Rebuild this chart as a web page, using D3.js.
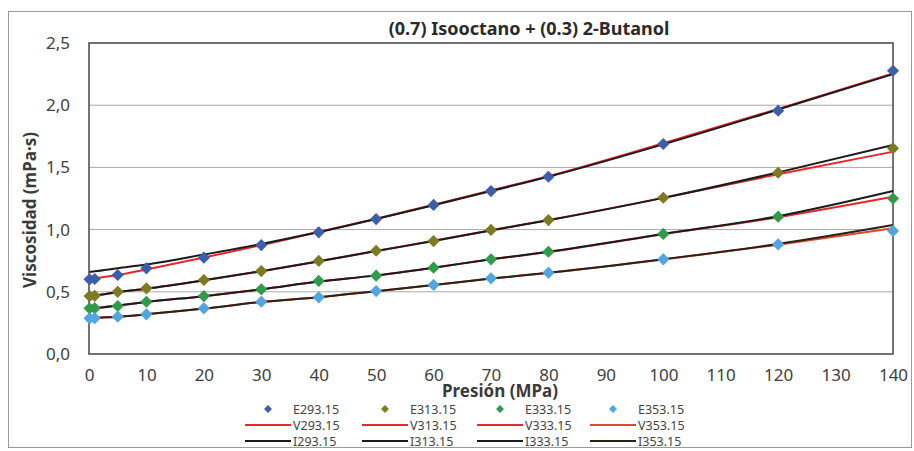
<!DOCTYPE html>
<html lang="es">
<head>
<meta charset="UTF-8">
<title>(0.7) Isooctano + (0.3) 2-Butanol</title>
<script src="https://cdn.jsdelivr.net/npm/d3@7"></script>
<style>
  body { margin: 0; background: #fff; }
  svg { display: block; font-family: "Noto Sans", "Open Sans", sans-serif; }
</style>
</head>
<body>
<div id="chart"></div>
<script>
// pressures (MPa) shared by every series
var pressures = [0.1, 1, 5, 10, 20, 30, 40, 50, 60, 70, 80, 100, 120, 140];
var xTicks = [0, 10, 20, 30, 40, 50, 60, 70, 80, 90, 100, 110, 120, 130, 140];
var yTicks = [0, 0.5, 1.0, 1.5, 2.0, 2.5];

// experimental points
var E293 = [0.600, 0.603, 0.635, 0.689, 0.774, 0.876, 0.978, 1.085, 1.198, 1.310, 1.425, 1.688, 1.956, 2.277];
var E313 = [0.466, 0.468, 0.500, 0.528, 0.595, 0.667, 0.748, 0.830, 0.908, 0.997, 1.077, 1.256, 1.457, 1.653];
var E333 = [0.367, 0.368, 0.386, 0.420, 0.466, 0.520, 0.587, 0.630, 0.694, 0.761, 0.822, 0.965, 1.104, 1.250];
var E353 = [0.287, 0.288, 0.300, 0.319, 0.367, 0.420, 0.456, 0.506, 0.555, 0.608, 0.654, 0.761, 0.882, 0.989];

// V model
var V293 = [0.600, 0.607, 0.635, 0.680, 0.775, 0.875, 0.980, 1.088, 1.200, 1.315, 1.430, 1.695, 1.970, 2.255];
var V313 = [0.466, 0.470, 0.497, 0.525, 0.592, 0.665, 0.745, 0.828, 0.910, 0.995, 1.077, 1.255, 1.445, 1.626];
var V333 = [0.367, 0.370, 0.390, 0.418, 0.465, 0.520, 0.582, 0.632, 0.694, 0.761, 0.820, 0.963, 1.100, 1.264];
var V353 = [0.287, 0.290, 0.300, 0.319, 0.365, 0.418, 0.456, 0.505, 0.555, 0.606, 0.652, 0.760, 0.878, 1.010];

// I model
var I293 = [0.660, 0.665, 0.690, 0.720, 0.800, 0.885, 0.980, 1.085, 1.195, 1.310, 1.425, 1.685, 1.965, 2.250];
var I313 = [0.466, 0.470, 0.497, 0.525, 0.592, 0.665, 0.745, 0.828, 0.908, 0.993, 1.075, 1.255, 1.460, 1.680];
var I333 = [0.367, 0.370, 0.390, 0.418, 0.465, 0.520, 0.582, 0.632, 0.694, 0.761, 0.822, 0.965, 1.108, 1.310];
var I353 = [0.287, 0.290, 0.300, 0.319, 0.365, 0.418, 0.456, 0.505, 0.555, 0.606, 0.653, 0.762, 0.885, 1.037];

var temps = ["293.15", "313.15", "333.15", "353.15"];
var expSeries = [E293, E313, E333, E353];
var vSeries = [V293, V313, V333, V353];
var iSeries = [I293, I313, I333, I353];
var markerColors = ["#3d5ea8", "#7c7b24", "#2f9c4c", "#4fa6e2"];
var vColors = ["#e8262b", "#e8262b", "#e8262b", "#dd4a2c"];
var iColors = ["#1b1b1b", "#1b1b1b", "#1b1b1b", "#2a2015"];

var W = 914, H = 451;
var plot = { left: 89, right: 893, top: 43, bottom: 354 };

var svg = d3.select("#chart").append("svg")
    .attr("width", W).attr("height", H);

// outer chart frame
svg.append("rect")
    .attr("x", 8.5).attr("y", 11.5)
    .attr("width", 903).attr("height", 436)
    .attr("fill", "none").attr("stroke", "#9a9a9a").attr("stroke-width", 1);

var x = d3.scaleLinear().domain([0, 140]).range([plot.left, plot.right]);
var y = d3.scaleLinear().domain([0, 2.5]).range([plot.bottom, plot.top]);

// gridlines
svg.append("g")
    .selectAll("line")
    .data(yTicks.filter(function (d) { return d > 0 && d < 2.5; }))
    .enter().append("line")
    .attr("x1", plot.left).attr("x2", plot.right)
    .attr("y1", function (d) { return y(d); })
    .attr("y2", function (d) { return y(d); })
    .attr("stroke", "#a8a8a8").attr("stroke-width", 1);

// plot border
svg.append("rect")
    .attr("x", plot.left).attr("y", plot.top)
    .attr("width", plot.right - plot.left).attr("height", plot.bottom - plot.top)
    .attr("fill", "none").attr("stroke", "#454545").attr("stroke-width", 1.5);

// Y axis
var yAxis = svg.append("g")
    .attr("transform", "translate(" + plot.left + ",0)")
    .call(d3.axisLeft(y).tickValues(yTicks).tickSize(0).tickPadding(19)
        .tickFormat(function (d) { return d3.format(".1f")(d).replace(".", ","); }));
yAxis.select(".domain").remove();
yAxis.selectAll("text").attr("font-size", 17).attr("fill", "#404040")
    .attr("font-family", "Noto Sans");

// X axis
var xAxis = svg.append("g")
    .attr("transform", "translate(0," + plot.bottom + ")")
    .call(d3.axisBottom(x).tickValues(xTicks).tickSize(0).tickPadding(15));
xAxis.select(".domain").remove();
xAxis.selectAll("text").attr("font-size", 17).attr("fill", "#404040")
    .attr("font-family", "Noto Sans");

// axis titles
svg.append("text")
    .attr("x", 500).attr("y", 397)
    .attr("text-anchor", "middle")
    .attr("font-size", 17).attr("font-weight", "bold").attr("fill", "#3a3a3a")
    .text("Presión (MPa)");

svg.append("text")
    .attr("transform", "translate(36,210) rotate(-90)")
    .attr("text-anchor", "middle")
    .attr("font-size", 17).attr("font-weight", "bold").attr("fill", "#3a3a3a")
    .text("Viscosidad (mPa·s)");

// title
svg.append("text")
    .attr("x", 529).attr("y", 35)
    .attr("text-anchor", "middle")
    .attr("font-size", 18).attr("font-weight", "bold").attr("fill", "#2a2a2a")
    .text("(0.7) Isooctano + (0.3) 2-Butanol");

var line = d3.line()
    .x(function (d, i) { return x(pressures[i]); })
    .y(function (d) { return y(d); })
    .curve(d3.curveMonotoneX);

// model lines
vSeries.forEach(function (s, k) {
    svg.append("path").datum(s)
        .attr("d", line).attr("fill", "none")
        .attr("stroke", vColors[k]).attr("stroke-width", 2);
});
iSeries.forEach(function (s, k) {
    svg.append("path").datum(s)
        .attr("d", line).attr("fill", "none")
        .attr("stroke", iColors[k]).attr("stroke-width", 2);
});

// experimental markers
var diamond = d3.symbol().type(d3.symbolDiamond2).size(95);
expSeries.forEach(function (s, k) {
    svg.append("g").selectAll("path")
        .data(s).enter().append("path")
        .attr("d", diamond)
        .attr("transform", function (d, i) {
            return "translate(" + x(pressures[i]) + "," + y(d) + ")";
        })
        .attr("fill", markerColors[k]);
});

// legend
var legCols = [245, 362, 477, 590];
var legRows = [409, 425, 441];
var legend = svg.append("g").attr("font-size", 12.5).attr("fill", "#444");
temps.forEach(function (t, k) {
    var lx = legCols[k];
    legend.append("path")
        .attr("d", d3.symbol().type(d3.symbolDiamond2).size(40))
        .attr("transform", "translate(" + (lx + 23) + "," + legRows[0] + ")")
        .attr("fill", markerColors[k]);
    legend.append("line")
        .attr("x1", lx).attr("x2", lx + 46)
        .attr("y1", legRows[1]).attr("y2", legRows[1])
        .attr("stroke", vColors[k]).attr("stroke-width", 2);
    legend.append("line")
        .attr("x1", lx).attr("x2", lx + 46)
        .attr("y1", legRows[2]).attr("y2", legRows[2])
        .attr("stroke", iColors[k]).attr("stroke-width", 2);
    ["E", "V", "I"].forEach(function (p, r) {
        legend.append("text")
            .attr("x", lx + 48).attr("y", legRows[r] + 4.5)
            .text(p + t);
    });
});
</script>
</body>
</html>
